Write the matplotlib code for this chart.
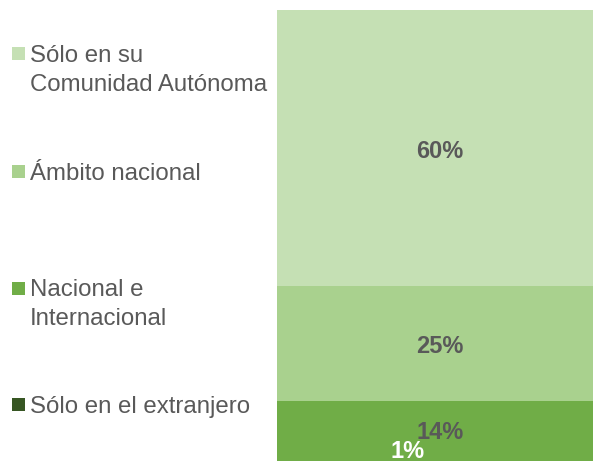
import matplotlib.pyplot as plt
from matplotlib.patches import Rectangle

# data, bottom to top of the stacked bar
categories = ["Sólo en el extranjero", "Nacional e\nInternacional",
              "Ámbito nacional", "Sólo en su\nComunidad Autónoma"]
values = [1, 14, 25, 60]
colors = ["#375623", "#70AD47", "#A9D18E", "#C5E0B4"]

plt.rcParams['font.family'] = ['Liberation Sans', 'DejaVu Sans']
W, H = 593, 461
fig = plt.figure(figsize=(W / 100, H / 100), dpi=100)

# single stacked bar, bottom slightly cut off by the figure edge
ax = fig.add_axes([277 / W, -9 / H, 316 / W, 460 / H])
bottom = 0
for v, c in zip(values, colors):
    ax.bar(0, v, width=1, bottom=bottom, color=c, linewidth=0)
    bottom += v
ax.set_xlim(-0.5, 0.5)
ax.set_ylim(0, sum(values))
ax.axis('off')

# label offsets in pixels (the tiny segment's label sits off to the side)
offsets = [(-27, 16), (5, 1), (5, -3), (5, -3)]
bottom = 0
for v, off in zip(values, offsets):
    mid = bottom + v / 2
    ax.annotate(f"{v}%", (0, mid), xytext=off, textcoords='offset pixels',
                ha='center', va='center', fontsize=17, fontweight='bold',
                color='white' if v < 5 else '#595959', annotation_clip=False)
    bottom += v

# legend on the left, top entry first
marker_y = [54, 171.5, 288, 404.5]
for k, (lab, c) in enumerate(zip(categories[::-1], colors[::-1])):
    yc = marker_y[k]
    fig.patches.append(Rectangle((12 / W, 1 - (yc + 6.5) / H), 13 / W, 13 / H,
                                 transform=fig.transFigure, color=c, linewidth=0))
    for j, line in enumerate(lab.split("\n")):
        fig.text(30 / W, 1 - (yc + 8 + 29 * j) / H, line, ha='left', va='baseline',
                 fontsize=17.3, color='#595959')

fig.savefig("out.png", dpi=100)
